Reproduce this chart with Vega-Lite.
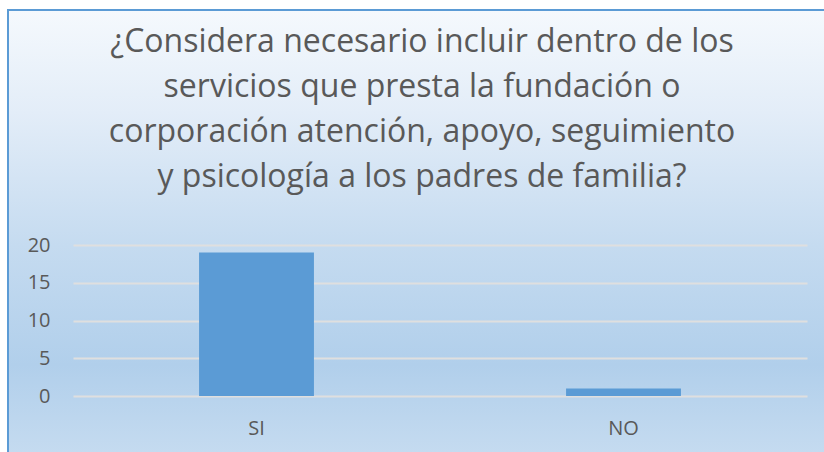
{
  "$schema": "https://vega.github.io/schema/vega-lite/v6.json",
  "width": 818,
  "height": 444,
  "autosize": {"type": "none"},
  "padding": {"left": 8, "top": 10, "right": 0, "bottom": 0},
  "background": "#ffffff",
  "title": {
    "text": [
      "¿Considera necesario incluir dentro de los",
      "servicios que presta la fundación o",
      "corporación atención, apoyo, seguimiento",
      "y psicología a los padres de familia?"
    ],
    "font": "Open Sans",
    "fontSize": 32,
    "fontWeight": "normal",
    "color": "#595959",
    "anchor": "middle",
    "frame": "group",
    "baseline": "alphabetic",
    "lineHeight": 45,
    "offset": -209,
    "dx": 5
  },
  "config": {
    "view": {
      "fill": {
        "gradient": "linear",
        "x1": 0, "y1": 0, "x2": 0, "y2": 1,
        "stops": [
          {"offset": 0, "color": "#f5f9fd"},
          {"offset": 0.23, "color": "#e3edf8"},
          {"offset": 0.53, "color": "#c5dbf0"},
          {"offset": 0.8, "color": "#b1cfeb"},
          {"offset": 1, "color": "#c5dbf0"}
        ]
      },
      "stroke": "#5b9bd5",
      "strokeWidth": 2
    }
  },
  "data": {
    "values": [
      {"respuesta": "SI", "cantidad": 19},
      {"respuesta": "NO", "cantidad": 1}
    ]
  },
  "mark": {"type": "bar", "color": "#5b9bd5"},
  "encoding": {
    "x": {
      "field": "respuesta",
      "type": "nominal",
      "sort": null,
      "scale": {"range": [65, 799], "paddingInner": 0.687, "paddingOuter": 0.3435},
      "axis": {
        "title": null,
        "labelAngle": 0,
        "domain": false,
        "ticks": false,
        "grid": false,
        "labelFont": "Open Sans",
        "labelFontSize": 20,
        "labelColor": "#595959",
        "labelBaseline": "middle",
        "labelPadding": 0,
        "offset": -26
      }
    },
    "y": {
      "field": "cantidad",
      "type": "quantitative",
      "scale": {"domain": [0, 21], "range": [386, 227.45], "nice": false, "zero": true},
      "axis": {
        "title": null,
        "values": [0, 5, 10, 15, 20],
        "domain": false,
        "ticks": false,
        "labelFont": "Open Sans",
        "labelFontSize": 20,
        "labelColor": "#595959",
        "labelPadding": 0,
        "offset": -42,
        "gridColor": "#dfdfdf",
        "gridWidth": 2
      }
    }
  }
}
